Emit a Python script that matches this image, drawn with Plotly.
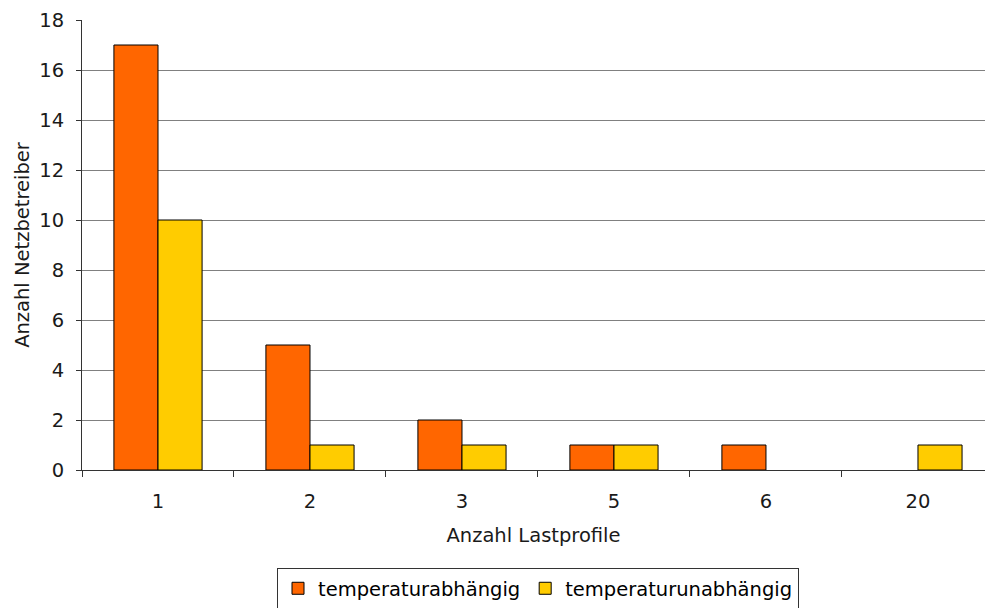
import plotly.graph_objects as go

# Number of load profiles per grid operator (categories) and counts per series
kategorien = ["1", "2", "3", "5", "6", "20"]
temperaturabhaengig = [17, 5, 2, 1, 1, 0]
temperaturunabhaengig = [10, 1, 1, 1, 0, 1]
y_ticks = [0, 2, 4, 6, 8, 10, 12, 14, 16, 18]

FONT = "DejaVu Sans, Verdana, sans-serif"
TXT = "#1a1a1a"
FS = 19.5


def outline(values):
    # no outline on empty bars, so a zero count leaves no mark
    return [1 if v > 0 else 0 for v in values]


fig = go.Figure()
fig.add_trace(go.Bar(
    x=kategorien, y=temperaturabhaengig, name="temperaturabhängig",
    marker=dict(color="#FF6600",
                line=dict(color="#000000", width=outline(temperaturabhaengig))),
))
fig.add_trace(go.Bar(
    x=kategorien, y=temperaturunabhaengig, name="temperaturunabhängig",
    marker=dict(color="#FFCC00",
                line=dict(color="#000000", width=outline(temperaturunabhaengig))),
))

fig.update_layout(
    width=986, height=608,
    margin=dict(l=82, r=1, t=20, b=138, autoexpand=False),
    paper_bgcolor="white", plot_bgcolor="white",
    barmode="group", bargap=0.42, bargroupgap=0,
    font=dict(family=FONT, size=FS, color=TXT),
    showlegend=True,
    legend=dict(
        orientation="h", x=0.505, xanchor="center", y=-0.218, yanchor="top",
        bordercolor="#333333", borderwidth=1, bgcolor="white",
        font=dict(family=FONT, size=FS, color="#000000"),
        tracegroupgap=0, itemwidth=30,
    ),
    xaxis=dict(
        type="category", range=[-0.5, 5.441], automargin=False,
        tickson="boundaries", ticks="outside", ticklen=6, tickcolor="#333333",
        ticklabelstandoff=14,
        showline=True, linecolor="#333333", linewidth=1,
        showgrid=False, zeroline=False,
        tickfont=dict(size=FS),
        title=dict(text="Anzahl Lastprofile", standoff=15, font=dict(size=FS)),
    ),
    yaxis=dict(
        range=[0, 18], tickvals=y_ticks, automargin=False,
        ticks="outside", ticklen=5, tickcolor="#333333",
        ticklabelstandoff=8,
        showline=True, linecolor="#333333", linewidth=1,
        showgrid=True, gridcolor="#808080", gridwidth=1,
        zeroline=False,
        tickfont=dict(size=FS),
        title=dict(text="Anzahl Netzbetreiber", standoff=4, font=dict(size=FS)),
    ),
)

fig.write_html("out.html")
